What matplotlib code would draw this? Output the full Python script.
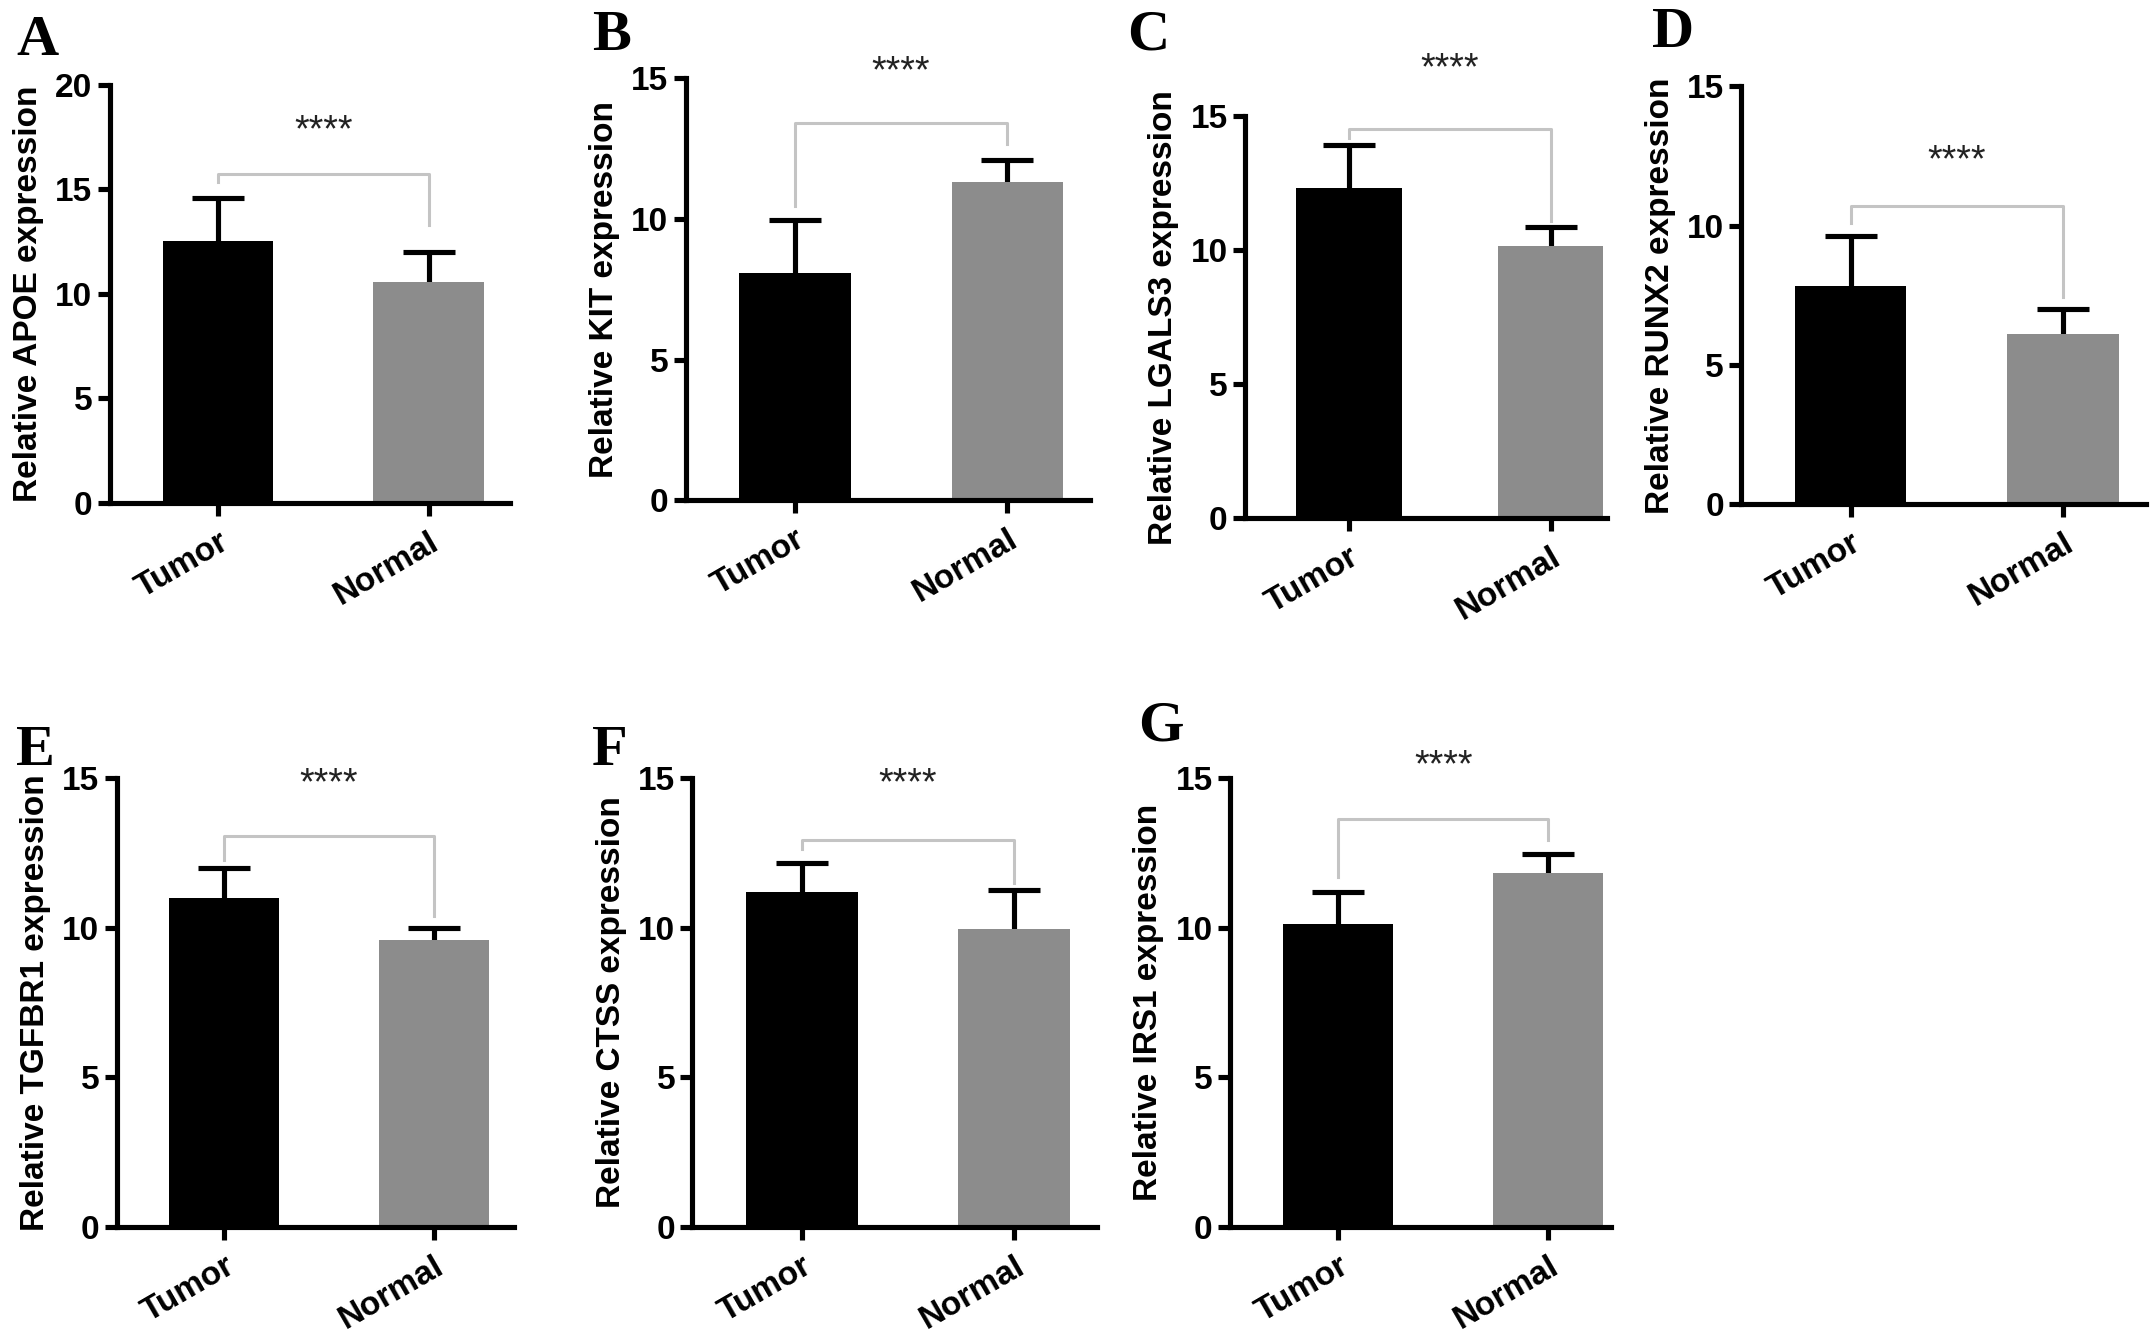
import matplotlib
matplotlib.use("Agg")
import matplotlib.pyplot as plt

# values
genes = ["APOE", "KIT", "LGALS3", "RUNX2", "TGFBR1", "CTSS", "IRS1"]
letters = ["A", "B", "C", "D", "E", "F", "G"]
groups = ["Tumor", "Normal"]
tumor_mean = [12.53, 8.09, 12.34, 7.85, 11.0, 11.19, 10.12]
tumor_err = [2.04, 1.88, 1.60, 1.77, 1.0, 0.98, 1.08]
normal_mean = [10.55, 11.3, 10.15, 6.11, 9.6, 9.96, 11.84]
normal_err = [1.47, 0.8, 0.71, 0.89, 0.39, 1.30, 0.63]
y_max = [20, 15, 15, 15, 15, 15, 15]
y_ticks = [[0, 5, 10, 15, 20]] + [[0, 5, 10, 15]] * 6
bracket_top = [15.75, 13.4, 14.55, 10.7, 13.07, 12.93, 13.65]
bracket_left = [15.37, 10.46, 14.2, 10.1, 12.27, 12.65, 11.7]
bracket_right = [13.3, 12.65, 11.1, 7.43, 10.38, 11.5, 12.94]
star_y = [17.8, 15.2, 16.76, 12.3, 14.8, 14.8, 15.4]
stars = "****"

# layout, in pixels of a 1568 x 977 view of the figure
W, H = 1568.0, 977.0
ax_left = [80, 500, 908, 1270, 85, 505, 897]
ax_right = [372, 795, 1172, 1565, 375, 800, 1175]
ax_top = [62, 57, 85, 63, 568, 568, 568]
ax_bottom = [367, 365, 378, 368, 895, 895, 895]
x_hi = [1.386, 1.39, 1.28, 1.39, 1.384, 1.39, 1.30]
letter_xy = [(12, 11), (432, 7), (822, 7), (1205, 5), (12, 529), (432, 529), (830, 511)]

plt.rcParams["font.family"] = ["Liberation Sans", "DejaVu Sans"]
plt.rcParams["font.weight"] = "bold"

fig = plt.figure(figsize=(21.5, 13.39), dpi=100)
lw = 3.7

for i in range(len(genes)):
    rect = [ax_left[i] / W, 1 - ax_bottom[i] / H,
            (ax_right[i] - ax_left[i]) / W, (ax_bottom[i] - ax_top[i]) / H]
    ax = fig.add_axes(rect)
    means = [tumor_mean[i], normal_mean[i]]
    errs = [tumor_err[i], normal_err[i]]
    ax.bar([0, 1], means, width=0.525, color=["#000000", "#8c8c8c"],
           linewidth=0, zorder=2)
    eb = ax.errorbar([0, 1], means, yerr=[[0, 0], errs], fmt="none",
                     ecolor="black", elinewidth=lw, capsize=19, capthick=lw,
                     zorder=1)
    # only the upper cap is shown
    eb[1][0].set_visible(False)

    # significance bracket
    ax.plot([0, 0, 1, 1],
            [bracket_left[i], bracket_top[i], bracket_top[i], bracket_right[i]],
            color="#c4c4c4", lw=2.2, clip_on=False, zorder=3)
    ax.text(0.5, star_y[i], stars, ha="center", va="center",
            fontsize=27, fontweight="normal", color="#222222", clip_on=False)

    ax.set_xlim(-0.515, x_hi[i])
    ax.set_ylim(0, y_max[i])
    ax.set_yticks(y_ticks[i])
    ax.set_xticks([0, 1])
    ax.set_xticklabels(groups, rotation=30, ha="right", rotation_mode="anchor",
                       fontsize=24, fontweight="bold")
    ax.tick_params(axis="y", labelsize=24, width=lw, length=9, direction="out")
    ax.tick_params(axis="x", width=lw, length=9, direction="out", pad=8)
    for lbl in ax.get_yticklabels():
        lbl.set_fontweight("bold")
    ax.set_ylabel("Relative %s expression" % genes[i], fontsize=24,
                  fontweight="bold", labelpad=8)

    for s in ["top", "right"]:
        ax.spines[s].set_visible(False)
    for s in ["left", "bottom"]:
        ax.spines[s].set_linewidth(lw)

    lx, ly = letter_xy[i]
    fig.text(lx / W, 1 - ly / H, letters[i], ha="left", va="top",
             fontsize=42, fontweight="bold", family="Liberation Serif")

fig.savefig("out.png", dpi=100)
